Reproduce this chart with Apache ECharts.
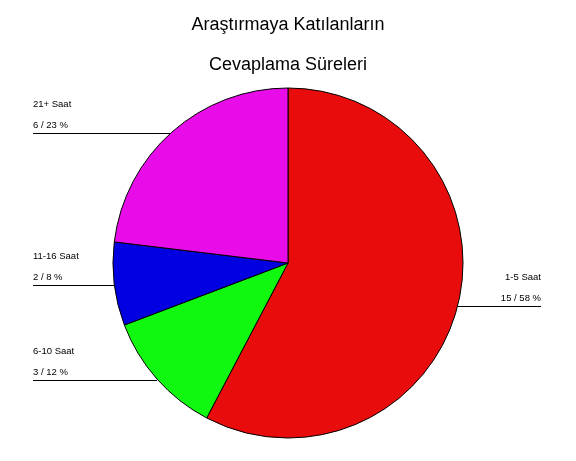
<!DOCTYPE html>
<html>
<head>
<meta charset="utf-8">
<script src="https://cdn.jsdelivr.net/npm/echarts@6/dist/echarts.min.js"></script>
<style>html,body{margin:0;padding:0;background:#fff}#c{width:576px;height:461px}</style>
</head>
<body>
<div id="c"></div>
<script>
var titleLines = ['Araştırmaya Katılanların', 'Cevaplama Süreleri'];
var categories = ['1-5 Saat', '6-10 Saat', '11-16 Saat', '21+ Saat'];
var counts = [15, 3, 2, 6];
var percents = [58, 12, 8, 23];
var colors = ['#E80C0C', '#10F810', '#0000E0', '#E80CE8'];

var chart = echarts.init(document.getElementById('c'), null, {renderer: 'canvas'});
var data = categories.map(function (c, i) {
  return {name: c, value: counts[i], pct: percents[i], itemStyle: {color: colors[i]}};
});
chart.setOption({
  animation: false,
  backgroundColor: '#fff',
  title: {
    text: titleLines.join('\n'),
    left: 'center',
    top: 0,
    textStyle: {fontFamily: 'Liberation Sans, Arial', fontSize: 18, fontWeight: 'normal', color: '#000', lineHeight: 40}
  },
  series: [{
    type: 'pie',
    center: [288, 263],
    radius: [0, 175],
    startAngle: 90,
    clockwise: true,
    data: data,
    itemStyle: {borderColor: '#000', borderWidth: 1},
    emphasis: {disabled: true},
    label: {
      show: true,
      position: 'outside',
      fontFamily: 'Liberation Sans, Arial',
      fontSize: 9.5,
      color: '#000',
      lineHeight: 21,
      formatter: function (p) { return p.name + '\n' + p.data.value + ' / ' + p.data.pct + ' %'; }
    },
    labelLine: {show: true, length: 0, length2: 20, lineStyle: {color: '#000', width: 1}},
    labelLayout: function (params) {
      var pts = params.labelLinePoints;
      if (!pts) return {};
      var p0 = pts[0];
      var isLeft = p0[0] < 288;
      var edgeX = isLeft ? 33 : 541;
      var ly = Math.round(p0[1]) + 1.5;
      return {
        x: edgeX,
        y: ly + 2.5,
        align: isLeft ? 'left' : 'right',
        verticalAlign: 'bottom',
        labelLinePoints: [[p0[0], ly], [p0[0], ly], [edgeX, ly]]
      };
    }
  }]
});
</script>
</body>
</html>
